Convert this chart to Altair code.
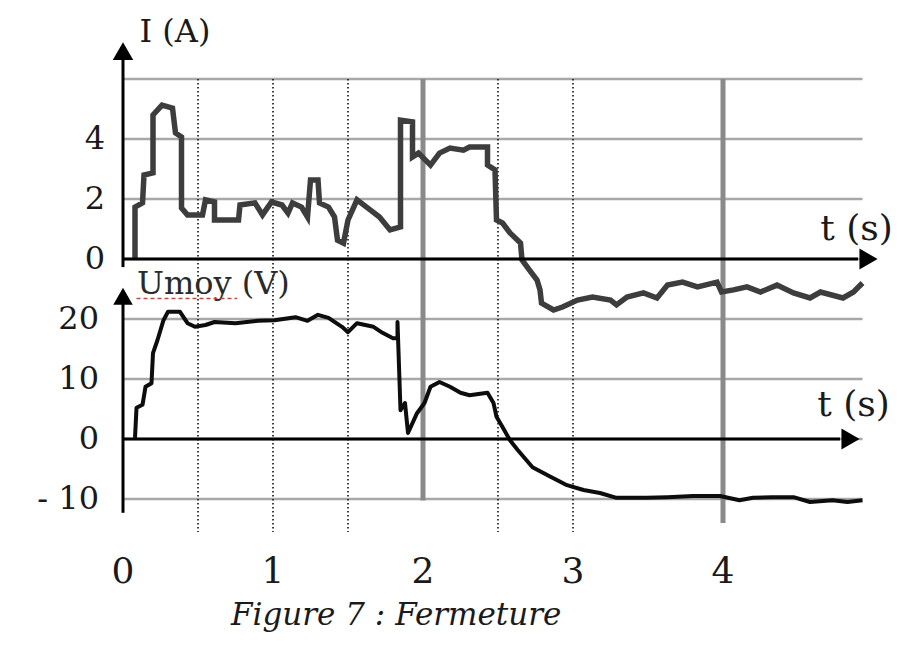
import altair as alt
import pandas as pd

# ---- data ----
# current I (A) versus time t (s)
I_t = [0.08, 0.08, 0.13, 0.14, 0.20, 0.20, 0.26, 0.33, 0.35, 0.39, 0.39, 0.43, 0.53, 0.55,
       0.61, 0.61, 0.77, 0.78, 0.88, 0.93, 0.99, 1.06, 1.10, 1.13, 1.19, 1.23, 1.25, 1.30,
       1.31, 1.37, 1.41, 1.43, 1.47, 1.50, 1.56, 1.65, 1.71, 1.78, 1.85, 1.85, 1.93, 1.93,
       1.97, 2.05, 2.11, 2.18, 2.27, 2.31, 2.43, 2.43, 2.48, 2.49, 2.53, 2.58, 2.65, 2.66,
       2.71, 2.76, 2.78, 2.79, 2.87, 2.93, 3.03, 3.13, 3.25, 3.29, 3.36, 3.47, 3.56, 3.63,
       3.73, 3.83, 3.96, 3.99, 4.07, 4.16, 4.25, 4.36, 4.47, 4.58, 4.65, 4.80, 4.87, 4.93]
I_v = [0.00, 1.73, 1.87, 2.80, 2.87, 4.80, 5.13, 5.03, 4.20, 4.07, 1.70, 1.47, 1.47, 1.97,
       1.90, 1.30, 1.30, 1.80, 1.87, 1.47, 1.90, 1.80, 1.53, 1.87, 1.73, 1.40, 2.63, 2.63,
       1.87, 1.73, 1.40, 0.63, 0.53, 1.30, 1.97, 1.63, 1.40, 0.97, 1.07, 4.63, 4.57, 3.40,
       3.53, 3.13, 3.53, 3.70, 3.63, 3.73, 3.73, 3.13, 2.97, 1.30, 1.20, 0.87, 0.53, -0.03,
       -0.37, -0.70, -1.03, -1.47, -1.70, -1.60, -1.37, -1.27, -1.37, -1.53, -1.27, -1.13, -1.30, -0.87,
       -0.77, -0.93, -0.77, -1.10, -1.03, -0.93, -1.10, -0.87, -1.13, -1.30, -1.10, -1.30, -1.10, -0.80]

# mean voltage Umoy (V) versus time t (s)
U_t = [0.08, 0.09, 0.13, 0.15, 0.19, 0.20, 0.23, 0.27, 0.30, 0.38, 0.43, 0.48, 0.55, 0.61,
       0.75, 0.90, 1.01, 1.15, 1.23, 1.30, 1.37, 1.46, 1.50, 1.56, 1.67, 1.73, 1.80, 1.83,
       1.83, 1.85, 1.88, 1.90, 1.96, 2.01, 2.05, 2.11, 2.18, 2.25, 2.31, 2.43, 2.47, 2.49,
       2.53, 2.58, 2.63, 2.73, 2.85, 2.96, 3.07, 3.18, 3.29, 3.49, 3.63, 3.80, 3.98, 4.11,
       4.20, 4.33, 4.47, 4.58, 4.73, 4.83, 4.93]
U_v = [0.2, 5.2, 5.7, 8.7, 9.3, 14.3, 16.5, 19.8, 21.2, 21.2, 19.3, 18.7, 19.0, 19.5,
       19.3, 19.7, 19.8, 20.3, 19.7, 20.7, 20.2, 18.7, 17.8, 19.3, 18.7, 17.7, 16.8, 16.8,
       19.5, 4.8, 6.0, 1.0, 4.3, 6.0, 8.7, 9.5, 8.7, 7.7, 7.3, 7.7, 6.0, 3.7,
       2.0, -0.2, -1.8, -4.7, -6.3, -7.7, -8.5, -9.0, -9.8, -9.8, -9.7, -9.5, -9.5, -10.2,
       -9.8, -9.7, -9.7, -10.5, -10.2, -10.5, -10.2]

# tick labels
t_ticks = [0, 1, 2, 3, 4]
I_ticks = [0, 2, 4]
U_ticks = [-10, 0, 10, 20]
U_tick_labels = ["- 10", "0", "10", "20"]

# grid
grid_levels_I = [-8, -6, -4, -2, 0, 2, 4, 6]
dotted_t = [0.5, 1.0, 1.5, 2.5, 3.0]
solid_t = [2.0, 4.0]
solid_bottom_I = [-8.05, -8.8]

SERIF = "DejaVu Serif"

xs = alt.Scale(domain=[0, 5], nice=False, zero=False)
sI = alt.Scale(domain=[-8, 6], nice=False, zero=False)
sU = alt.Scale(domain=[-10, 60], nice=False, zero=False)


def X(f):
    return alt.X(f, type="quantitative", scale=xs, axis=None)


def X2(f):
    return alt.X2(f)


def YI(f):
    return alt.Y(f, type="quantitative", scale=sI, axis=None)


def YU(f):
    return alt.Y(f, type="quantitative", scale=sU, axis=None)


# horizontal grid
hgrid = alt.Chart(pd.DataFrame({"v": grid_levels_I, "t0": 0.0, "t1": 4.93})).mark_rule(
    color="#a8a8a8", strokeWidth=2.5
).encode(x=X("t0"), x2=X2("t1"), y=YI("v"))

# dotted verticals
dotted = alt.Chart(pd.DataFrame({"t": dotted_t, "top": 6.0, "bot": -9.1})).mark_rule(
    color="#111111", strokeWidth=1.6, strokeDash=[1.5, 2.5]
).encode(x=X("t"), y=YI("top"), y2=alt.Y2("bot"))

# solid grey verticals
solid = alt.Chart(pd.DataFrame({"t": solid_t, "top": 6.0, "bot": solid_bottom_I})).mark_rule(
    color="#8a8a8a", strokeWidth=5
).encode(x=X("t"), y=YI("top"), y2=alt.Y2("bot"))

# axes (black lines)
yaxis_I = alt.Chart(pd.DataFrame({"t": [0.0], "a": [6.9], "b": [-0.27]})).mark_rule(
    color="black", strokeWidth=3
).encode(x=X("t"), y=YI("a"), y2=alt.Y2("b"))
yaxis_U = alt.Chart(pd.DataFrame({"t": [0.0], "a": [23.6], "b": [-12.3]})).mark_rule(
    color="black", strokeWidth=3
).encode(x=X("t"), y=YU("a"), y2=alt.Y2("b"))
xaxis_I = alt.Chart(pd.DataFrame({"t0": [0.0], "t1": [4.9], "v": [0.0]})).mark_rule(
    color="black", strokeWidth=3
).encode(x=X("t0"), x2=X2("t1"), y=YI("v"))
xaxis_U = alt.Chart(pd.DataFrame({"t0": [0.0], "t1": [4.78], "v": [0.0]})).mark_rule(
    color="black", strokeWidth=3
).encode(x=X("t0"), x2=X2("t1"), y=YU("v"))

# arrow heads
arrow_up_I = alt.Chart(pd.DataFrame({"t": [0.0], "v": [6.93]})).mark_point(
    shape="triangle-up", filled=True, size=420, color="black", opacity=1
).encode(x=X("t"), y=YI("v"))
arrow_up_U = alt.Chart(pd.DataFrame({"t": [0.0], "v": [23.8]})).mark_point(
    shape="triangle-up", filled=True, size=380, color="black", opacity=1
).encode(x=X("t"), y=YU("v"))
arrow_r_I = alt.Chart(pd.DataFrame({"t": [4.97], "v": [0.0]})).mark_point(
    shape="triangle-right", filled=True, size=440, color="black", opacity=1
).encode(x=X("t"), y=YI("v"))
arrow_r_U = alt.Chart(pd.DataFrame({"t": [4.85], "v": [0.0]})).mark_point(
    shape="triangle-right", filled=True, size=440, color="black", opacity=1
).encode(x=X("t"), y=YU("v"))

# curves
dfI = pd.DataFrame({"t": I_t, "v": I_v, "i": list(range(len(I_t)))})
dfU = pd.DataFrame({"t": U_t, "v": U_v, "i": list(range(len(U_t)))})
curve_I = alt.Chart(dfI).mark_line(color="#3d3d3d", strokeWidth=5.5, strokeJoin="miter").encode(
    x=X("t"), y=YI("v"), order="i:Q"
)
curve_U = alt.Chart(dfU).mark_line(color="#0d0d0d", strokeWidth=4, strokeJoin="round").encode(
    x=X("t"), y=YU("v"), order="i:Q"
)

# tick labels
lab_I = alt.Chart(pd.DataFrame({"v": I_ticks, "txt": [str(v) for v in I_ticks]})).mark_text(
    font=SERIF, fontSize=32, align="right", baseline="middle", color="#1a1a1a"
).encode(x=alt.value(-18), y=YI("v"), text="txt:N")
lab_U = alt.Chart(pd.DataFrame({"v": U_ticks, "txt": U_tick_labels})).mark_text(
    font=SERIF, fontSize=32, align="right", baseline="middle", color="#1a1a1a"
).encode(x=alt.value(-24), y=YU("v"), text="txt:N")
lab_t = alt.Chart(pd.DataFrame({"t": t_ticks, "txt": [str(v) for v in t_ticks]})).mark_text(
    font=SERIF, fontSize=36, align="center", baseline="middle", color="#1a1a1a"
).encode(x=X("t"), y=alt.value(493), text="txt:N")

# axis titles
title_I = alt.Chart(pd.DataFrame({"t": [0.11], "v": [7.57], "txt": ["I (A)"]})).mark_text(
    font=SERIF, fontSize=32, align="left", baseline="middle", color="#1a1a1a"
).encode(x=X("t"), y=YI("v"), text="txt:N")
title_tI = alt.Chart(pd.DataFrame({"t": [4.89], "v": [1.0], "txt": ["t (s)"]})).mark_text(
    font=SERIF, fontSize=36, align="center", baseline="middle", color="#1a1a1a"
).encode(x=X("t"), y=YI("v"), text="txt:N")
title_tU = alt.Chart(pd.DataFrame({"t": [4.87], "v": [5.7], "txt": ["t (s)"]})).mark_text(
    font=SERIF, fontSize=36, align="center", baseline="middle", color="#1a1a1a"
).encode(x=X("t"), y=YU("v"), text="txt:N")
title_U = alt.Chart(pd.DataFrame({"t": [0.093], "v": [25.8], "txt": ["Umoy (V)"]})).mark_text(
    font=SERIF, fontSize=32, align="left", baseline="middle", color="#2a2a2a"
).encode(x=X("t"), y=YU("v"), text="txt:N")
underline = alt.Chart(pd.DataFrame({"t0": [0.09], "t1": [0.76], "v": [23.4]})).mark_rule(
    color="#e03a3a", strokeWidth=1.5, strokeDash=[4, 3]
).encode(x=X("t0"), x2=X2("t1"), y=YU("v"))

caption = alt.Chart(pd.DataFrame({"t": [0.72], "txt": ["Figure 7 : Fermeture"]})).mark_text(
    font=SERIF, fontSize=31, fontStyle="italic", align="left", baseline="alphabetic", color="#1a1a1a"
).encode(x=X("t"), y=alt.value(546), text="txt:N")

chart = alt.layer(
    hgrid, dotted, solid,
    curve_I, curve_U,
    yaxis_I, yaxis_U, xaxis_I, xaxis_U,
    arrow_up_I, arrow_up_U, arrow_r_I, arrow_r_U,
    lab_I, lab_U, lab_t,
    title_I, title_tI, title_tU, title_U, underline, caption,
).resolve_scale(y="independent").properties(
    width=750,
    height=420,
    padding={"left": 115, "top": 71, "right": 20, "bottom": 138},
    autosize=alt.AutoSizeParams(type="none"),
    background="white",
).configure_view(stroke=None)

chart.save("out.html", embed_options={"renderer": "svg", "actions": False})
